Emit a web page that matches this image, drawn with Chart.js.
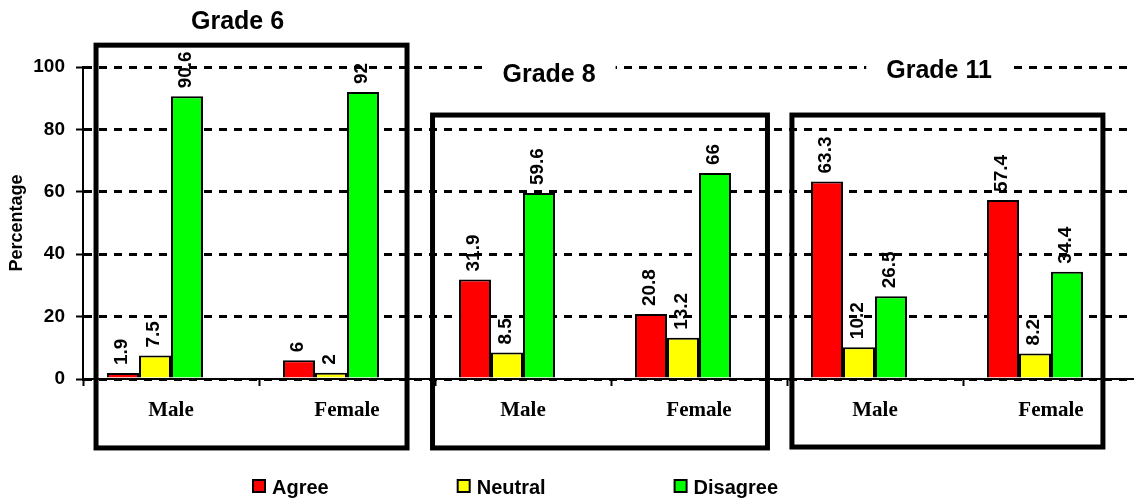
<!DOCTYPE html>
<html>
<head>
<meta charset="utf-8">
<script src="https://cdn.jsdelivr.net/npm/chart.js@4.4.1/dist/chart.umd.min.js"></script>
<style>
  html, body { margin: 0; padding: 0; background: #fff; overflow: hidden; }
  canvas { display: block; }
</style>
</head>
<body>
<canvas id="gradeChart" width="1139" height="500"></canvas>
<script>
const categories = ['Male', 'Female', 'Male', 'Female', 'Male', 'Female'];
const agreeValues = [1.9, 6, 31.9, 20.8, 63.3, 57.4];
const neutralValues = [7.5, 2, 8.5, 13.2, 10.2, 8.2];
const disagreeValues = [90.6, 92, 59.6, 66, 26.5, 34.4];
const gradeNames = ['Grade 6', 'Grade 8', 'Grade 11'];
const yTicks = [0, 20, 40, 60, 80, 100];

const SANS = '"Liberation Sans", Arial, sans-serif';
const SERIF = '"Liberation Serif", "Times New Roman", serif';

// frames around each grade, in axis units (category index / percent)
const gradeFrames = [
    { x0: -0.426, x1: 1.341, top: 107, bottom: -22.1, titleX: 0.378, titleY: 112.2, titleBg: false },
    { x0: 1.486, x1: 3.389, top: 84.6, bottom: -22.1, titleX: 2.148, titleY: 95.2, titleBg: true },
    { x0: 3.528, x1: 5.295, top: 84.6, bottom: -21.8, titleX: 4.364, titleY: 96.5, titleBg: true }
];

const barValueLabels = {
    id: 'barValueLabels',
    afterDatasetsDraw(chart) {
        const ctx = chart.ctx;
        ctx.save();
        ctx.font = `bold 19px ${SANS}`;
        ctx.fillStyle = '#000';
        ctx.textAlign = 'left';
        ctx.textBaseline = 'middle';
        chart.data.datasets.forEach((ds, di) => {
            const meta = chart.getDatasetMeta(di);
            meta.data.forEach((bar, i) => {
                const v = ds.data[i];
                if (v == null) return;
                ctx.save();
                ctx.translate(bar.x - 1, bar.y - 8);
                ctx.rotate(-Math.PI / 2);
                ctx.fillText(String(v), 0, 0);
                ctx.restore();
            });
        });
        ctx.restore();
    }
};

const gradeFramesPlugin = {
    id: 'gradeFrames',
    afterDraw(chart) {
        const { ctx, scales: { x, y } } = chart;
        ctx.save();
        ctx.strokeStyle = '#000';
        ctx.lineWidth = 5;
        gradeFrames.forEach((f, i) => {
            const left = x.getPixelForValue(f.x0);
            const right = x.getPixelForValue(f.x1);
            const top = y.getPixelForValue(f.top);
            const bottom = y.getPixelForValue(f.bottom);
            ctx.strokeRect(left, top, right - left, bottom - top);

            ctx.font = `bold 25px ${SANS}`;
            ctx.textAlign = 'center';
            ctx.textBaseline = 'alphabetic';
            const tx = x.getPixelForValue(f.titleX);
            const ty = y.getPixelForValue(f.titleY);
            const w = ctx.measureText(gradeNames[i]).width;
            if (f.titleBg) {
                ctx.fillStyle = '#fff';
                ctx.fillRect(tx - w / 2 - 20, ty - 22, w + 40, 28);
            }
            ctx.fillStyle = '#000';
            ctx.fillText(gradeNames[i], tx, ty);
        });
        ctx.restore();
    }
};

const bottomLegend = {
    id: 'bottomLegend',
    afterDraw(chart) {
        const ctx = chart.ctx;
        ctx.save();
        ctx.font = `bold 20px ${SANS}`;
        ctx.textAlign = 'left';
        ctx.textBaseline = 'alphabetic';
        let px = 252;
        const baseY = 494;
        chart.data.datasets.forEach((ds) => {
            if (!ds.label) return;
            ctx.fillStyle = ds.backgroundColor;
            ctx.fillRect(px + 1, baseY - 14, 12, 12);
            ctx.strokeStyle = '#000';
            ctx.lineWidth = 2;
            ctx.strokeRect(px + 1, baseY - 14, 12, 12);
            ctx.fillStyle = '#000';
            ctx.fillText(ds.label, px + 20, baseY);
            px += 20 + ctx.measureText(ds.label).width + 128;
        });
        ctx.restore();
    }
};

function barSeries(label, data, color) {
    return {
        label: label,
        data: data,
        backgroundColor: color,
        borderColor: '#000',
        borderWidth: 2,
        categoryPercentage: 0.727,
        barPercentage: 1.0
    };
}

const ctx = document.getElementById('gradeChart').getContext('2d');
new Chart(ctx, {
    type: 'bar',
    data: {
        labels: categories,
        datasets: [
            barSeries('Agree', agreeValues, '#FF0000'),
            barSeries('Neutral', neutralValues, '#FFFF00'),
            barSeries('Disagree', disagreeValues, '#00FF00'),
            // empty slot so each group sits left of the category centre
            barSeries('', categories.map(() => null), 'rgba(0,0,0,0)')
        ]
    },
    options: {
        responsive: false,
        animation: false,
        devicePixelRatio: 1,
        layout: { padding: { top: 67, left: 0, right: 0, bottom: 0 } },
        plugins: {
            legend: { display: false },
            tooltip: { enabled: false }
        },
        scales: {
            x: {
                afterFit: (scale) => { scale.height = 121; },
                grid: {
                    display: true,
                    drawOnChartArea: false,
                    drawTicks: true,
                    tickLength: 7,
                    tickColor: '#000',
                    tickWidth: 2
                },
                border: { display: true, color: '#000', width: 2 },
                ticks: {
                    color: '#000',
                    padding: 12,
                    font: { family: SERIF, size: 21, weight: 'bold' }
                }
            },
            y: {
                min: yTicks[0],
                max: yTicks[yTicks.length - 1],
                afterFit: (scale) => { scale.width = 83; },
                afterBuildTicks: (scale) => { scale.ticks = yTicks.map((v) => ({ value: v })); },
                grid: {
                    color: '#000',
                    lineWidth: 3,
                    tickLength: 7,
                    tickColor: '#000',
                    tickWidth: 2,
                    tickBorderDash: []
                },
                border: { display: true, color: '#000', width: 2, dash: [8, 7] },
                ticks: {
                    color: '#000',
                    padding: 11,
                    font: { family: SANS, size: 19, weight: 'bold' }
                },
                title: {
                    display: true,
                    text: 'Percentage',
                    color: '#000',
                    padding: { top: 6, bottom: 0 },
                    font: { family: SANS, size: 18, weight: 'bold' }
                }
            }
        }
    },
    plugins: [barValueLabels, gradeFramesPlugin, bottomLegend]
});
</script>
</body>
</html>
